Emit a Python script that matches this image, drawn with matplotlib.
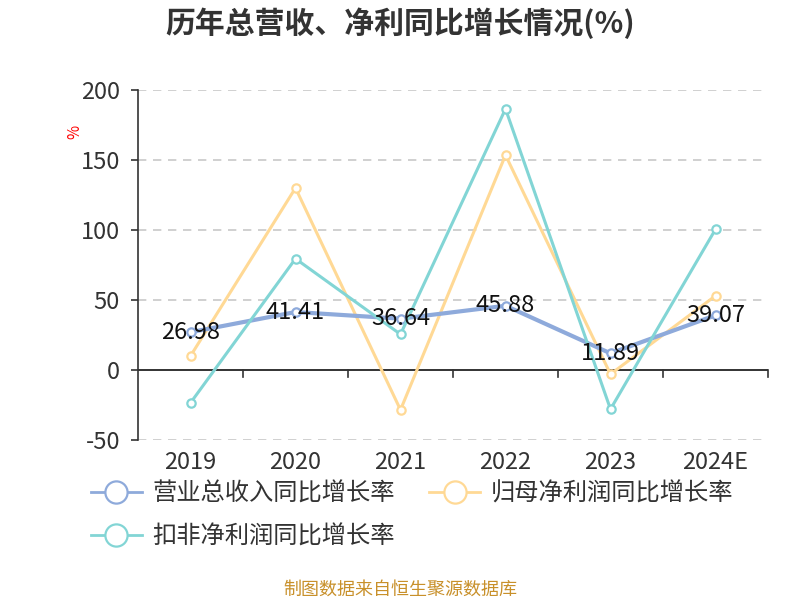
import matplotlib
matplotlib.use("Agg")
import matplotlib.pyplot as plt
import numpy as np
from matplotlib.lines import Line2D

plt.rcParams['font.family'] = ['Noto Sans CJK SC', 'DejaVu Sans']

# === DATA ===
years = ["2019", "2020", "2021", "2022", "2023", "2024E"]
revenue_growth = [26.98, 41.41, 36.64, 45.88, 11.89, 39.07]
net_profit_growth = [10.0, 130.0, -28.5, 153.5, -3.0, 53.0]
deducted_profit_growth = [-23.5, 79.5, 25.5, 186.5, -28.0, 100.5]
series_names = ["营业总收入同比增长率", "归母净利润同比增长率", "扣非净利润同比增长率"]
y_ticks = [-50, 0, 50, 100, 150, 200]

c_blue = "#8eaadb"
c_orange = "#ffd995"
c_teal = "#82d5d5"

fig = plt.figure(figsize=(8, 6), dpi=100)
ax = fig.add_axes([0.1725, 0.2667, 0.7875, 0.5833])

x = np.arange(len(years))

# gridlines
for t in y_ticks:
    if t != 0:
        ax.axhline(t, color="#c8c8c8", lw=1.2, ls=(0, (5, 4)), zorder=0)

ax.plot(x, net_profit_growth, color=c_orange, lw=2.2, marker="o", ms=6,
        mfc="white", mec=c_orange, mew=1.6, zorder=3)
ax.plot(x, revenue_growth, color=c_blue, lw=3, marker="o", ms=6,
        mfc="white", mec=c_blue, mew=1.6, zorder=4)
ax.plot(x, deducted_profit_growth, color=c_teal, lw=2.2, marker="o", ms=6,
        mfc="white", mec=c_teal, mew=1.6, zorder=5)

for xi, v in zip(x, revenue_growth):
    ax.text(xi, v, f"{v:.2f}", ha="center", va="center", fontsize=17,
            color="#111111", zorder=6)

ax.set_xlim(-0.5, len(years) - 0.5)
ax.set_ylim(-50, 200)
ax.set_yticks(y_ticks)
ax.set_yticklabels([str(t) for t in y_ticks], fontsize=17, color="#333333")

for s in ["top", "right", "bottom"]:
    ax.spines[s].set_visible(False)
ax.spines["left"].set_color("#333333")
ax.spines["left"].set_linewidth(1.2)
ax.tick_params(axis="y", length=5, width=1.2, color="#333333", pad=8)

# x axis at zero
ax.axhline(0, color="#333333", lw=1.4, zorder=2)
ax.set_xticks([])
for b in np.arange(0.5, len(years), 1.0):
    ax.plot([b, b], [0, -5], color="#333333", lw=1.2, clip_on=False, zorder=2)
for xi, lab in zip(x, years):
    ax.text(xi, -58, lab, ha="center", va="top", fontsize=17, color="#333333")

fig.text(0.094, 0.78, "%", rotation=90, color="red", fontsize=11,
         ha="center", va="center")

fig.text(0.5, 0.962, "历年总营收、净利同比增长情况(%)", ha="center", va="center",
         fontsize=21.5, fontweight="bold", color="#333333")

handles = [Line2D([0], [0], color=c, lw=2, marker="o", ms=16, mfc="white",
                  mec=c, mew=1.6)
           for c in [c_blue, c_orange, c_teal]]
leg_kw = dict(loc="center left", frameon=False, fontsize=17.5, borderpad=0,
              handlelength=2.1, handletextpad=0.45, labelcolor="#333333")
fig.legend(handles[:2], series_names[:2], ncol=2, columnspacing=1.4,
           bbox_to_anchor=(0.098, 0.178), **leg_kw)
fig.legend(handles[2:], series_names[2:], ncol=1,
           bbox_to_anchor=(0.098, 0.106), **leg_kw)

fig.text(0.5, 0.018, "制图数据来自恒生聚源数据库", ha="center", va="center",
         fontsize=13, color="#c8902a")

fig.savefig("out.png", dpi=100)
